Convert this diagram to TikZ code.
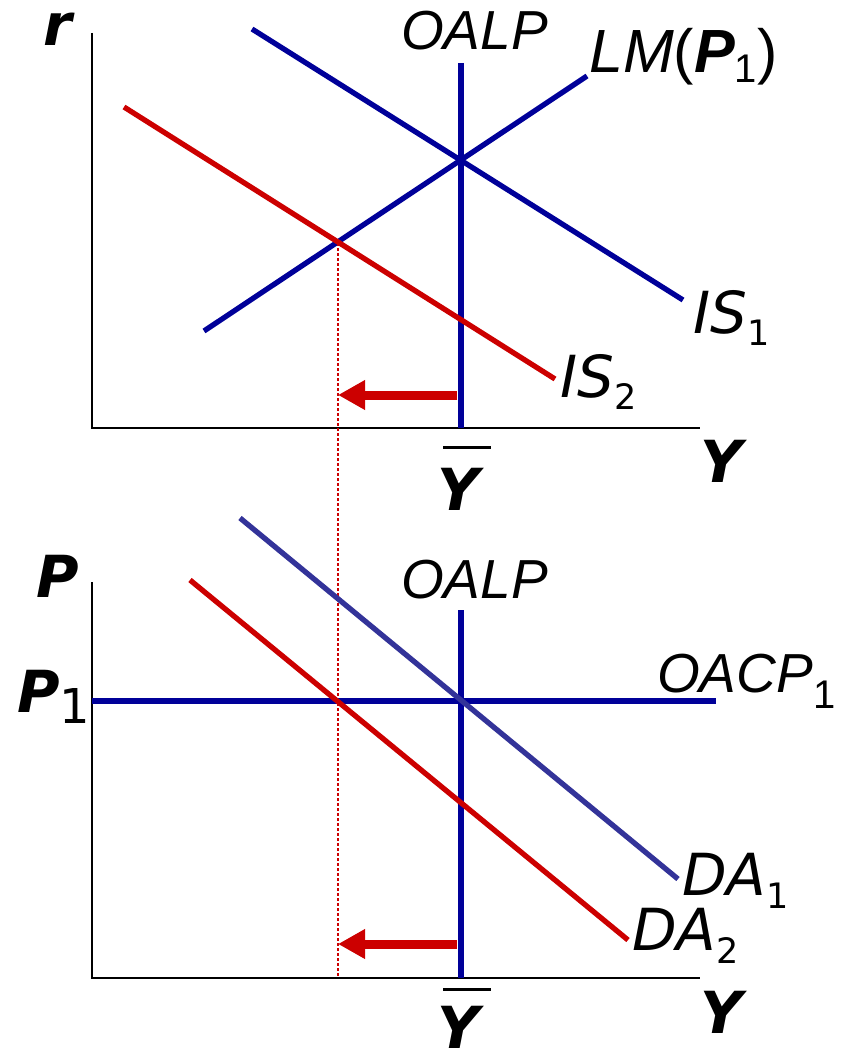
\documentclass[tikz,border=0pt]{standalone}
\usepackage{fontspec}
\setmainfont{DejaVu Sans}
\newfontfamily\arialfont{Liberation Sans}
\usetikzlibrary{arrows.meta}
\definecolor{cblue}{RGB}{0,0,153}
\definecolor{cred}{RGB}{204,0,0}
\definecolor{cdblue}{RGB}{51,51,153}
\newcommand\vfont{\fontsize{58}{60}\selectfont\itshape}
\newcommand\bvfont{\fontsize{58}{60}\selectfont\bfseries\itshape}
\newcommand\afont{\arialfont\fontsize{55}{60}\selectfont\itshape}
\newcommand\lmfont{\arialfont\fontsize{61}{64}\selectfont\itshape}
\newcommand\vsub[2][-12pt]{\raisebox{#1}{\fontsize{35}{36}\selectfont\upshape #2}}
\newcommand\asub[2][-11pt]{\raisebox{#1}{\fontsize{40}{40}\selectfont\mdseries\upshape #2}}
\begin{document}
\begin{tikzpicture}[x=1pt,y=-1pt,
  axisline/.style={line width=2.8pt,black},
  bline/.style={line width=5.3pt,cblue},
  rline/.style={line width=5.3pt,cred},
  daone/.style={line width=5.3pt,cdblue},
  lbl/.style={inner sep=0pt,anchor=base west},
  shiftarrow/.style={cred,line width=9pt,-{Triangle[length=27pt,width=28pt]}},
  guide/.style={cred,line width=2.3pt,dash pattern=on 2.5pt off 2.5pt},
  barline/.style={line width=3pt,black}]
\useasboundingbox (0,0) rectangle (841,1057);
% ---------- top panel ----------
\coordinate (t0) at (92,428);
\coordinate (ttop) at (92,33);
\coordinate (tend) at (700,428);
\draw[axisline] (ttop) -- (t0) -- (tend);
\coordinate (oalp1a) at (461,63);
\coordinate (oalp1b) at (461,428);
\draw[bline] (oalp1a) -- (oalp1b);
\coordinate (is1a) at (252,29);
\coordinate (is1b) at (683,300);
\draw[bline] (is1a) -- (is1b);
\coordinate (lma) at (204,331);
\coordinate (lmb) at (587,76);
\draw[bline] (lma) -- (lmb);
\coordinate (is2a) at (124,107);
\coordinate (is2b) at (555,379);
\draw[rline] (is2a) -- (is2b);
\coordinate (eq2) at (338,243);
\coordinate (eq2b) at (338,978);
\draw[guide] (eq2) -- (eq2b);
\coordinate (arr1a) at (457,395);
\coordinate (arr1b) at (338,395);
\draw[shiftarrow] (arr1a) -- (arr1b);
\node[lbl] (rlab) at (43,46) {\bvfont r};
\node[lbl] (oalp1) at (401,50) {\afont OALP};
\node[lbl] (lmlab) at (589,72) {\lmfont LM{\upshape(}\textbf{P}\asub[-10pt]{1}{\upshape)}};
\node[lbl] (is1lab) at (693,333) {\vfont IS\vsub{1}};
\node[lbl] (is2lab) at (560,397) {\vfont IS\vsub{2}};
\node[lbl] (ytop) at (700,482) {\bvfont Y};
\node[lbl] (ybartop) at (437,510) {\bvfont Y};
\coordinate (bar1a) at (443,447);
\coordinate (bar1b) at (491,447);
\draw[barline] (bar1a) -- (bar1b);
% ---------- bottom panel ----------
\coordinate (b0) at (92,978);
\coordinate (btop) at (92,582);
\coordinate (bend) at (700,978);
\draw[axisline] (btop) -- (b0) -- (bend);
\coordinate (oalp2a) at (461,610);
\coordinate (oalp2b) at (461,978);
\draw[bline] (oalp2a) -- (oalp2b);
\coordinate (oacpa) at (92,701);
\coordinate (oacpb) at (716,701);
\draw[bline] (oacpa) -- (oacpb);
\coordinate (da1a) at (240,518);
\coordinate (da1b) at (678,879);
\draw[daone] (da1a) -- (da1b);
\coordinate (da2a) at (190,580);
\coordinate (da2b) at (628,940);
\draw[rline] (da2a) -- (da2b);
\coordinate (arr2a) at (457,944);
\coordinate (arr2b) at (338,944);
\draw[shiftarrow] (arr2a) -- (arr2b);
\node[lbl] (plab) at (36,597) {\bvfont P};
\node[lbl] (p1lab) at (17,712) {\bvfont P\raisebox{-11pt}{\fontsize{48}{48}\selectfont\mdseries\upshape 1}};
\node[lbl] (oalp2) at (401,598) {\afont OALP};
\node[lbl] (oacplab) at (657,692) {\afont OACP\asub[-16pt]{1}};
\node[lbl] (da1lab) at (682,895) {\vfont DA\vsub[-13pt]{1}};
\node[lbl] (da2lab) at (632,950) {\vfont DA\vsub[-13pt]{2}};
\node[lbl] (ybot) at (700,1033) {\bvfont Y};
\node[lbl] (ybarbot) at (437,1048) {\bvfont Y};
\coordinate (bar2a) at (443,989);
\coordinate (bar2b) at (491,989);
\draw[barline] (bar2a) -- (bar2b);
\end{tikzpicture}
\end{document}
